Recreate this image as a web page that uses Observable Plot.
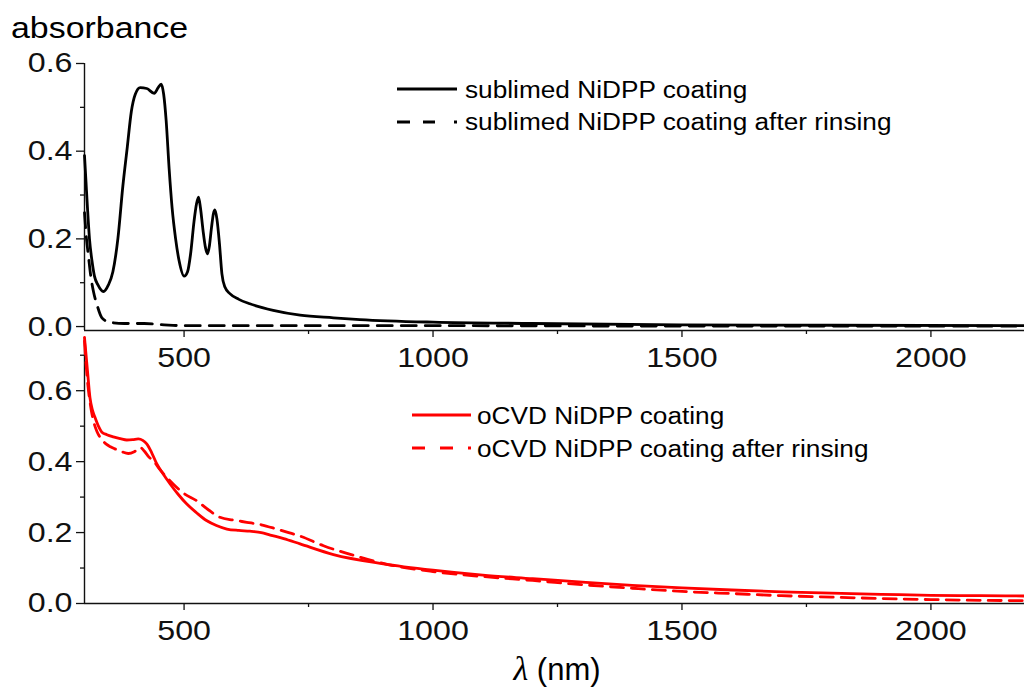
<!DOCTYPE html>
<html>
<head>
<meta charset="utf-8">
<script src="https://cdn.jsdelivr.net/npm/d3@7"></script>
<script src="https://cdn.jsdelivr.net/npm/@observablehq/plot@0.6"></script>
<style>
html, body { margin: 0; padding: 0; background: #fff; }
#wrap { position: relative; width: 1024px; height: 688px; overflow: hidden; font-family: "Liberation Sans", Arial, sans-serif; color: #000; }
.abs { position: absolute; }
.st { display: inline-block; transform-origin: left center; white-space: nowrap; }
</style>
</head>
<body>
<div id="wrap"></div>
<script>
// ---------- data ----------
const xDomain = [300, 2200];
const xMajor = [500, 1000, 1500, 2000];
const xMinor = [750, 1250, 1750];
const topYMajor = [0, 0.2, 0.4, 0.6];
const topYMinor = [0.1, 0.3, 0.5];
const botYMajor = [0, 0.2, 0.4, 0.6];
const botYMinor = [0.1, 0.3, 0.5, 0.7];

const seriesNames = [
  "sublimed NiDPP coating",
  "sublimed NiDPP coating after rinsing",
  "oCVD NiDPP coating",
  "oCVD NiDPP coating after rinsing"
];

const subNm = [300, 303, 306, 310, 315, 320, 327, 338, 348, 357, 367, 377, 386, 394, 402, 412, 425, 440, 448, 454, 459, 464, 470, 476, 483, 490, 500, 507, 513, 520, 525, 529, 533, 538, 543, 547, 551, 555, 559, 562, 566, 571, 576, 582, 592, 610, 632, 679, 733, 800, 853, 1000, 1200, 1500, 1800, 2200];
const subAbs = [0.39, 0.33, 0.27, 0.20, 0.15, 0.115, 0.095, 0.08, 0.095, 0.125, 0.20, 0.32, 0.41, 0.49, 0.53, 0.545, 0.543, 0.532, 0.545, 0.553, 0.53, 0.47, 0.36, 0.27, 0.20, 0.15, 0.115, 0.125, 0.165, 0.24, 0.28, 0.295, 0.27, 0.22, 0.18, 0.166, 0.185, 0.225, 0.258, 0.266, 0.245, 0.19, 0.12, 0.09, 0.075, 0.062, 0.052, 0.037, 0.026, 0.02, 0.016, 0.01, 0.007, 0.004, 0.003, 0.002];

const subRinsedNm = [300, 304, 308, 312, 318, 325, 335, 350, 380, 420, 460, 500, 600, 800, 1000, 1500, 2000, 2200];
const subRinsedAbs = [0.26, 0.20, 0.16, 0.12, 0.08, 0.05, 0.02, 0.01, 0.007, 0.007, 0.004, 0.002, 0.002, 0.002, 0.002, 0.001, 0.001, 0.001];

const ocvdNm = [300, 306, 311, 316, 321, 328, 335, 345, 358, 372, 385, 397, 408, 417, 425, 435, 445, 458, 472, 488, 505, 525, 545, 565, 586, 610, 632, 655, 673, 700, 733, 800, 900, 1000, 1100, 1200, 1300, 1400, 1500, 1600, 1700, 1800, 1900, 2000, 2100, 2200];
const ocvdAbs = [0.75, 0.656, 0.58, 0.545, 0.525, 0.50, 0.483, 0.476, 0.47, 0.465, 0.461, 0.462, 0.464, 0.46, 0.45, 0.425, 0.394, 0.365, 0.337, 0.308, 0.281, 0.256, 0.234, 0.22, 0.21, 0.206, 0.204, 0.20, 0.193, 0.183, 0.168, 0.138, 0.112, 0.094, 0.08, 0.07, 0.06, 0.051, 0.044, 0.038, 0.033, 0.029, 0.026, 0.023, 0.022, 0.021];

const ocvdRinsedNm = [300, 304, 308, 313, 318, 325, 333, 343, 352, 361, 375, 388, 400, 412, 420, 430, 438, 450, 465, 478, 500, 525, 548, 572, 600, 626, 655, 686, 710, 733, 780, 850, 900, 1000, 1100, 1200, 1300, 1400, 1500, 1600, 1700, 1800, 1900, 2000, 2100, 2200];
const ocvdRinsedAbs = [0.74, 0.66, 0.60, 0.55, 0.515, 0.485, 0.465, 0.45, 0.442, 0.436, 0.428, 0.423, 0.428, 0.44, 0.43, 0.412, 0.403, 0.38, 0.356, 0.337, 0.31, 0.29, 0.265, 0.243, 0.235, 0.229, 0.222, 0.21, 0.20, 0.19, 0.163, 0.132, 0.113, 0.09, 0.076, 0.065, 0.053, 0.043, 0.034, 0.028, 0.022, 0.018, 0.014, 0.011, 0.009, 0.008];

// ---------- helpers ----------
const FONT = '"Liberation Sans", Arial, sans-serif';
const STRETCH = 1.15;
const pts = (xs, ys) => xs.map((x, i) => ({x, y: ys[i]}));

function stretchTicks(svg, s) {
  svg.querySelectorAll("text").forEach(t => {
    t.setAttribute("font-size", "28");
    t.style.fontSize = "28px";
    const tr = t.getAttribute("transform");
    if (tr) {
      t.setAttribute("transform", tr + ` scale(${s},1)`);
    } else {
      const x = +(t.getAttribute("x") || 0), y = +(t.getAttribute("y") || 0);
      t.setAttribute("transform", `translate(${x},${y}) scale(${s},1) translate(${-x},${-y})`);
    }
  });
}

function panel(o) {
  const svg = Plot.plot({
    width: 1030, height: o.height,
    marginLeft: 84, marginRight: 0, marginTop: o.mt, marginBottom: o.mb,
    x: {domain: xDomain},
    y: {domain: o.yDomain},
    style: {fontFamily: FONT, fontSize: "28px", color: "#111", background: "transparent", maxWidth: "none", overflow: "visible"},
    marks: [
      Plot.axisX(xMinor, {tickSize: 4, tickFormat: () => "", label: null, strokeWidth: 1.3}),
      Plot.axisX(xMajor, {tickSize: 7, tickPadding: 10, tickFormat: d => String(d), label: null, fontSize: 28, strokeWidth: 1.3}),
      Plot.axisY(o.yMinor, {tickSize: 4, tickFormat: () => "", label: null, strokeWidth: 1.3}),
      Plot.axisY(o.yMajor, {tickSize: 8, tickPadding: 4, tickFormat: d3.format(".1f"), label: null, fontSize: 28, strokeWidth: 1.3}),
      Plot.ruleX([xDomain[0]], {y1: o.yDomain[0], y2: o.yDomain[1], stroke: "#111", strokeWidth: 1.4}),
      Plot.ruleY([o.yDomain[0]], {stroke: "#111", strokeWidth: 1.4}),
      ...o.series.map(s => Plot.line(pts(s.nm, s.abs), {
        x: "x", y: "y", stroke: s.color, strokeWidth: 2.8,
        strokeDasharray: s.dash, curve: "monotone-x"
      }))
    ]
  });
  stretchTicks(svg, STRETCH);
  svg.style.position = "absolute";
  svg.style.left = "0px";
  svg.style.top = o.top + "px";
  return svg;
}

const wrap = document.getElementById("wrap");

const bottomPanel = panel({
  top: 300, height: 388, mt: 37, mb: 85,
  yDomain: [0, 0.75], yMajor: botYMajor, yMinor: botYMinor,
  series: [
    {nm: ocvdNm, abs: ocvdAbs, color: "#ff0000", dash: null},
    {nm: ocvdRinsedNm, abs: ocvdRinsedAbs, color: "#ff0000", dash: "13,8"}
  ]
});
const topPanel = panel({
  top: 0, height: 380, mt: 63, mb: 50,
  yDomain: [-0.009, 0.6], yMajor: topYMajor, yMinor: topYMinor,
  series: [
    {nm: subNm, abs: subAbs, color: "#000", dash: null},
    {nm: subRinsedNm, abs: subRinsedAbs, color: "#000", dash: "15,9"}
  ]
});
wrap.appendChild(bottomPanel);
wrap.appendChild(topPanel);

// ---------- text & legends ----------
function addText(txt, left, baseline, size, scale) {
  const d = document.createElement("div");
  d.className = "abs";
  d.style.left = left + "px";
  d.style.top = (baseline - 0.8465 * size) + "px";
  d.style.fontSize = size + "px";
  d.style.lineHeight = "1";
  const s = document.createElement("span");
  s.className = "st";
  s.style.transform = `scaleX(${scale})`;
  s.textContent = txt;
  d.appendChild(s);
  wrap.appendChild(d);
}

function addSample(x0, x1, y, color, dash) {
  const ns = "http://www.w3.org/2000/svg";
  const svg = document.createElementNS(ns, "svg");
  svg.setAttribute("width", x1 - x0 + 4);
  svg.setAttribute("height", 10);
  svg.style.position = "absolute";
  svg.style.left = (x0 - 2) + "px";
  svg.style.top = (y - 5) + "px";
  const l = document.createElementNS(ns, "line");
  l.setAttribute("x1", 2); l.setAttribute("x2", x1 - x0 + 2);
  l.setAttribute("y1", 5); l.setAttribute("y2", 5);
  l.setAttribute("stroke", color);
  l.setAttribute("stroke-width", 2.8);
  if (dash) l.setAttribute("stroke-dasharray", dash);
  svg.appendChild(l);
  wrap.appendChild(svg);
}

addText("absorbance", 11, 38, 30, 1.13);

addSample(397, 457, 89, "#000", null);
addText(seriesNames[0], 465, 98, 23, 1.14);
addSample(397, 457, 122, "#000", "13,13,12,19,3,100");
addText(seriesNames[1], 465, 130, 23, 1.14);

addSample(412, 471, 415, "#ff0000", null);
addText(seriesNames[2], 477, 424, 23, 1.14);
addSample(412, 471, 448, "#ff0000", "13,15,13,15,3,100");
addText(seriesNames[3], 477, 457, 23, 1.14);

// x-axis title
const xt = document.createElement("div");
xt.className = "abs";
xt.style.left = "557px";
xt.style.top = (678 - 0.8465 * 31) + "px";
xt.style.fontSize = "31px";
xt.style.lineHeight = "1";
xt.style.whiteSpace = "nowrap";
xt.style.transform = "translateX(-50%)";
xt.innerHTML = '<span style="font-family:\'Liberation Serif\',serif;font-style:italic;font-size:34px">λ</span> (nm)';
wrap.appendChild(xt);
</script>
</body>
</html>
